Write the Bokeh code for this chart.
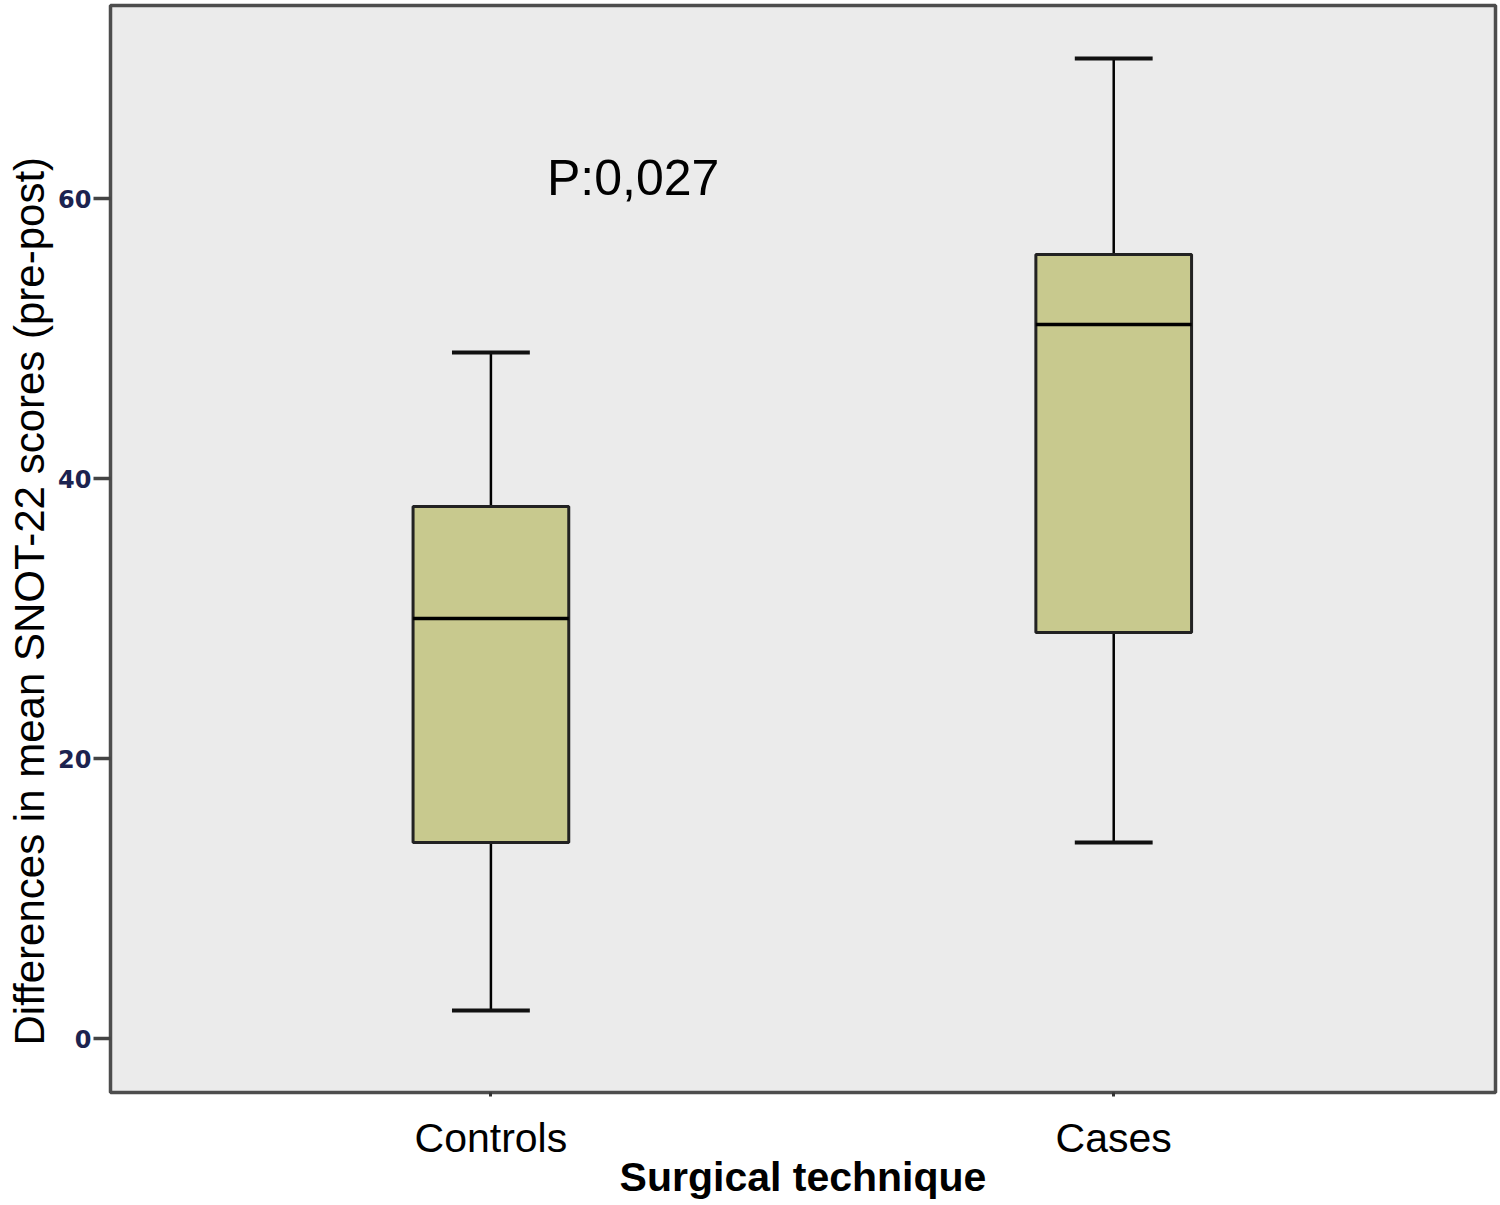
from bokeh.plotting import figure
from bokeh.models import Range1d, FixedTicker, Label, ColumnDataSource, Title
from bokeh.embed import file_html
from bokeh.resources import INLINE

# ---- data ----
groups = ["Controls", "Cases"]
group_pos = [1, 2]
whisker_low = [2, 14]
q1 = [14, 29]
median = [30, 51]
q3 = [38, 56]
whisker_high = [49, 70]
y_ticks = [0, 20, 40, 60]
p_text = "P:0,027"

x_title = "Surgical technique"
y_title = "Differences in mean SNOT-22 scores (pre-post)"

box_w = 0.25
cap_w = 0.125

src = ColumnDataSource(dict(
    x=group_pos, lo=whisker_low, q1=q1, med=median, q3=q3, hi=whisker_high,
    cl=[g - cap_w / 2 for g in group_pos], cr=[g + cap_w / 2 for g in group_pos],
    bl=[g - box_w / 2 for g in group_pos], br=[g + box_w / 2 for g in group_pos],
))

p = figure(width=1500, height=1205, output_backend="svg", toolbar_location=None,
           x_range=Range1d(0.3892, 2.613), y_range=Range1d(-3.857, 73.79),
           min_border_left=110, min_border_right=5, min_border_top=5,
           min_border_bottom=113)

p.background_fill_color = "#ebebeb"
p.border_fill_color = "white"
p.outline_line_color = "#4d4d4d"
p.outline_line_width = 3.5
p.grid.visible = False

# whiskers
p.segment(x0="x", y0="q3", x1="x", y1="hi", source=src, line_color="black", line_width=2.5)
p.segment(x0="x", y0="lo", x1="x", y1="q1", source=src, line_color="black", line_width=2.5)
p.segment(x0="cl", y0="hi", x1="cr", y1="hi", source=src, line_color="#111111", line_width=4)
p.segment(x0="cl", y0="lo", x1="cr", y1="lo", source=src, line_color="#111111", line_width=4)
# boxes
p.quad(left="bl", right="br", bottom="q1", top="q3", source=src,
       fill_color="#c8c98e", line_color="#222222", line_width=3)
p.segment(x0="bl", y0="med", x1="br", y1="med", source=src, line_color="black", line_width=3.5)

# y axis
yax = p.yaxis[0]
yax.ticker = FixedTicker(ticks=y_ticks)
yax.axis_line_color = None
yax.major_tick_line_color = "#444444"
yax.major_tick_line_width = 3.5
yax.major_tick_out = 17
yax.major_tick_in = 0
yax.minor_tick_line_color = None
yax.major_label_text_font = "DejaVu Sans"
yax.major_label_text_font_style = "bold"
yax.major_label_text_font_size = "24px"
yax.major_label_text_color = "#1c2350"
yax.major_label_standoff = 2

# y title, placed lower than the frame centre as in the reference
p.add_layout(Title(text=y_title, align="left", offset=47, standoff=5,
                   text_font="Liberation Sans", text_font_size="42px",
                   text_font_style="normal", text_color="black"), "left")

# x axis
xax = p.xaxis[0]
xax.ticker = FixedTicker(ticks=group_pos)
xax.major_label_overrides = {g: n for g, n in zip(group_pos, groups)}
xax.axis_line_color = None
xax.major_tick_line_color = "#333333"
xax.major_tick_line_width = 3
xax.major_tick_out = 4
xax.major_tick_in = 0
xax.minor_tick_line_color = None
xax.major_label_text_font = "Liberation Sans"
xax.major_label_text_font_size = "41px"
xax.major_label_text_color = "black"
xax.major_label_standoff = 18
xax.axis_label = x_title
xax.axis_label_text_font = "Liberation Sans"
xax.axis_label_text_font_style = "bold"
xax.axis_label_text_font_size = "41px"
xax.axis_label_text_color = "black"
xax.axis_label_standoff = -10

# p-value annotation
p.add_layout(Label(x=1.09, y=61.5, text=p_text, text_align="left",
                   text_baseline="alphabetic",
                   text_font="Liberation Sans", text_font_size="50px",
                   text_color="black"))

open("out.html", "w").write(file_html(p, INLINE))
